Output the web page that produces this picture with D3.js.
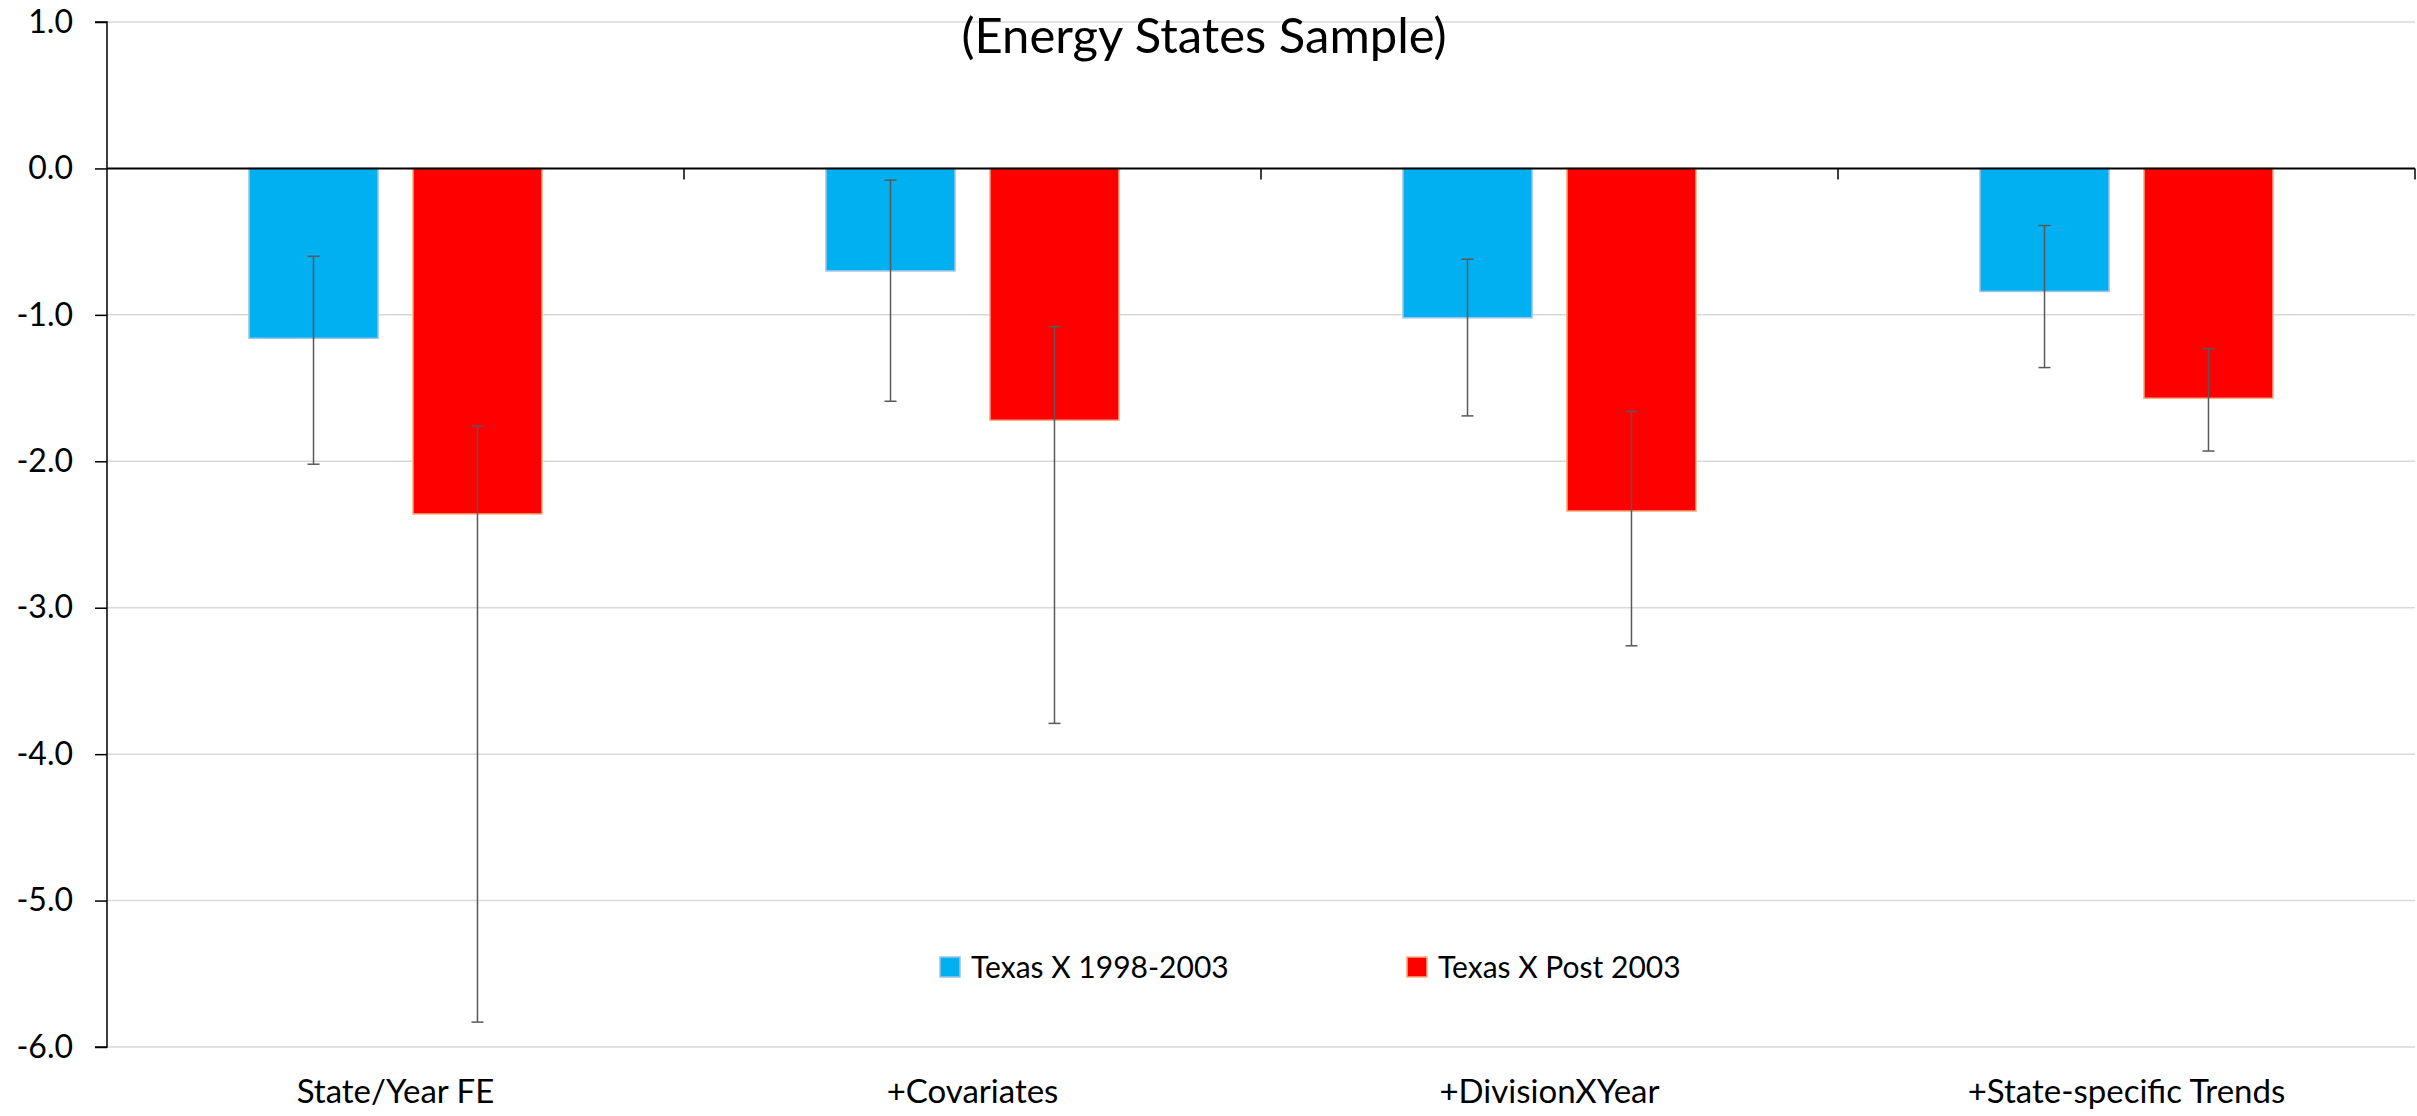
<!DOCTYPE html>
<html>
<head>
<meta charset="utf-8">
<script src="https://cdn.jsdelivr.net/npm/d3@7"></script>
<style>
	body { margin: 0; background: #fff; }
	svg text { font-family: Lato, "Open Sans", sans-serif; fill: #000; }
</style>
</head>
<body>
<div id="chart"></div>
<script>
var categories = ["State/Year FE", "+Covariates", "+DivisionXYear", "+State-specific Trends"];
var seriesNames = ["Texas X 1998-2003", "Texas X Post 2003"];
var early = [-1.16, -0.70, -1.02, -0.84];
var earlyLow = [-2.02, -1.59, -1.69, -1.36];
var earlyHigh = [-0.60, -0.08, -0.62, -0.39];
var post = [-2.36, -1.72, -2.34, -1.57];
var postLow = [-5.83, -3.79, -3.26, -1.93];
var postHigh = [-1.76, -1.08, -1.66, -1.23];
var yTicks = [1, 0, -1, -2, -3, -4, -5, -6];

var width = 2417, height = 1116;
var fills = ["#00B0F0", "#FF0000"];
var borders = ["#9DC3E6", "#F4B183"];

var svg = d3.select('#chart').append('svg')
	.attr('width', width).attr('height', height);

var x = d3.scaleBand().domain(categories).range([107, 2415]);
var xs = d3.scaleBand().domain([0, 1]).range([0, x.bandwidth()])
	.paddingInner(0.213).paddingOuter(0.866);
var y = d3.scaleLinear().domain([-6, 1]).range([1047, 22]);

// gridlines
svg.append('g').selectAll('line').data(yTicks.filter(function(d) { return d != 0; }))
	.enter().append('line')
	.attr('x1', 107).attr('x2', 2415)
	.attr('y1', function(d) { return y(d); }).attr('y2', function(d) { return y(d); })
	.attr('stroke', '#d9d9d9').attr('stroke-width', 1.5);

// y axis
var fmt = d3.format('.1f');
var yAxis = svg.append('g').attr('transform', 'translate(107,0)')
	.call(d3.axisLeft(y).tickValues(yTicks).tickSize(12).tickPadding(22)
		.tickFormat(function(d) { return fmt(d).replace('\u2212', '-'); }));
yAxis.selectAll('path, line').attr('stroke', '#000').attr('stroke-width', 1.5);
yAxis.select('.domain').attr('d', 'M-12,' + y(1) + 'H0V' + y(-6) + 'H-12');
yAxis.selectAll('text').style('font-size', '32px').attr('fill', '#000');

// bars
var rows = categories.map(function(c, i) {
	return [
		{cat: c, s: 0, v: early[i], lo: earlyLow[i], hi: earlyHigh[i]},
		{cat: c, s: 1, v: post[i], lo: postLow[i], hi: postHigh[i]}
	];
});
var flat = d3.merge(rows);

svg.append('g').selectAll('rect').data(flat).enter().append('rect')
	.attr('x', function(d) { return x(d.cat) + xs(d.s); })
	.attr('width', xs.bandwidth())
	.attr('y', y(0))
	.attr('height', function(d) { return y(d.v) - y(0); })
	.attr('fill', function(d) { return fills[d.s]; })
	.attr('stroke', function(d) { return borders[d.s]; })
	.attr('stroke-width', 1.5);

// x axis at zero
var xAxis = svg.append('g').attr('transform', 'translate(0,' + y(0) + ')');
xAxis.append('line').attr('x1', 107).attr('x2', 2415)
	.attr('stroke', '#000').attr('stroke-width', 2);
xAxis.selectAll('.tk').data(categories).enter().append('line')
	.attr('class', 'tk')
	.attr('x1', function(d) { return x(d) + x.bandwidth(); })
	.attr('x2', function(d) { return x(d) + x.bandwidth(); })
	.attr('y1', 0).attr('y2', 11)
	.attr('stroke', '#000').attr('stroke-width', 1.5);

// error bars
var err = svg.append('g').attr('stroke', '#595959').attr('stroke-width', 1.5);
flat.forEach(function(d) {
	var cx = x(d.cat) + xs(d.s) + xs.bandwidth() / 2;
	err.append('line').attr('x1', cx).attr('x2', cx)
		.attr('y1', y(d.hi)).attr('y2', y(d.lo));
	err.append('line').attr('x1', cx - 6).attr('x2', cx + 6)
		.attr('y1', y(d.hi)).attr('y2', y(d.hi));
	err.append('line').attr('x1', cx - 6).attr('x2', cx + 6)
		.attr('y1', y(d.lo)).attr('y2', y(d.lo));
});

// category labels
svg.append('g').selectAll('text').data(categories).enter().append('text')
	.attr('x', function(d) { return x(d) + x.bandwidth() / 2; })
	.attr('y', 1103)
	.attr('text-anchor', 'middle')
	.style('font-size', '33px')
	.text(function(d) { return d; });

// title
svg.append('text').attr('x', 1204).attr('y', 53)
	.attr('text-anchor', 'middle')
	.style('font-size', '49px')
	.text('(Energy States Sample)');

// legend
var legendX = [940, 1407];
var legend = svg.append('g').selectAll('g').data(seriesNames).enter().append('g')
	.attr('transform', function(d, i) { return 'translate(' + legendX[i] + ',957)'; });
legend.append('rect').attr('width', 20).attr('height', 20)
	.attr('fill', function(d, i) { return fills[i]; })
	.attr('stroke', function(d, i) { return borders[i]; })
	.attr('stroke-width', 1.5);
legend.append('text').attr('x', 31).attr('y', 21)
	.style('font-size', '30px')
	.text(function(d) { return d; });
</script>
</body>
</html>
